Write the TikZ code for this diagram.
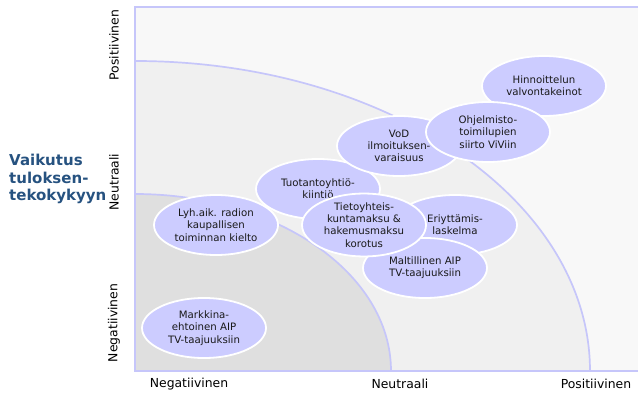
\documentclass[tikz,border=0pt]{standalone}
\usepackage{fontspec}
\setmainfont{DejaVu Sans}
\usetikzlibrary{shapes.geometric}
\definecolor{frameline}{RGB}{198,198,250}
\definecolor{bubble}{RGB}{204,204,255}
\definecolor{zoneA}{RGB}{248,248,248}
\definecolor{zoneB}{RGB}{240,240,240}
\definecolor{zoneC}{RGB}{223,223,223}
\definecolor{titleblue}{RGB}{38,82,128}
\definecolor{bubbletext}{RGB}{25,25,25}
\tikzset{
  bub/.style={ellipse, fill=bubble, draw=white, line width=1.8pt, minimum width=124pt, minimum height=60pt, inner sep=0pt, align=center, text=bubbletext, font=\fontsize{10.2}{12.2}\selectfont},
  axlab/.style={font=\fontsize{12.4}{14}\selectfont, text=black, inner sep=0pt},
  zoneline/.style={draw=frameline, line width=1.7pt}
}
\begin{document}
\begin{tikzpicture}[x=1pt,y=-1pt]
\useasboundingbox (0,0) rectangle (638,396);
% zones
\fill[zoneA] (135,7) rectangle (638,371);
\begin{scope}
  \clip (135,7) rectangle (638,371);
  \fill[zoneB] (135,371) ellipse [x radius=455, y radius=310];
  \draw[zoneline] (135,371) ellipse [x radius=455, y radius=310];
  \fill[zoneC] (135,371) ellipse [x radius=256, y radius=177];
  \draw[zoneline] (135,371) ellipse [x radius=256, y radius=177];
\end{scope}
\draw[zoneline, line width=2.2pt] (638,7) -- (135,7) -- (135,371) -- (638,371);
% bubbles
\node[bub] (hinn) at (544,86) {Hinnoittelun\\valvontakeinot};
\node[bub] (tuot) at (318,189) {Tuotantoyhtiö-\\kiintiö};
\node[bub] (vod) at (399,146) {VoD\\ilmoituksen-\\varaisuus};
\node[bub] (ohj) at (488,132) {Ohjelmisto-\\toimilupien\\siirto ViViin};
\node[bub] (lyh) at (216,225) {Lyh.aik. radion\\kaupallisen\\toiminnan kielto};
\node[bub] (eri) at (455,225) {Eriyttämis-\\laskelma};
\node[bub] (malt) at (425,268) {Maltillinen AIP\\TV-taajuuksiin};
\node[bub] (tieto) at (364,225) {Tietoyhteis-\\kuntamaksu \&\\hakemusmaksu\\korotus};
\node[bub] (mark) at (204,328) {Markkina-\\ehtoinen AIP\\TV-taajuuksiin};
% axis labels
\node[axlab, rotate=90] (ypos) at (114,45) {Positiivinen};
\node[axlab, rotate=90] (yneu) at (114,182) {Neutraali};
\node[axlab, rotate=90] (yneg) at (114,323) {Negatiivinen};
\node[axlab] (xneg) at (189,384) {Negatiivinen};
\node[axlab] (xneu) at (400,384) {Neutraali};
\node[axlab] (xpos) at (596,384) {Positiivinen};
% title
\node[font=\bfseries\fontsize{15}{17.5}\selectfont, text=titleblue, align=left, anchor=west, inner sep=0pt] (title) at (9,179) {Vaikutus\\tuloksen-\\tekokykyyn};
\end{tikzpicture}
\end{document}
